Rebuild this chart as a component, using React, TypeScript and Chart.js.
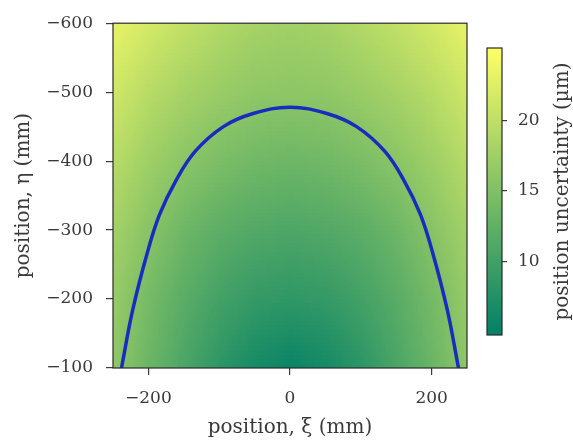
import React, { useEffect, useRef } from 'react';
import { Chart, registerables } from 'chart.js';

Chart.register(...registerables);

// ---- data ----
const X_NODES = [-250, -200, -150, -100, -50, 0, 50, 100, 150, 200, 250];
const Y_NODES = [-600, -500, -400, -300, -200, -100];
// position uncertainty (µm) on the grid, rows follow Y_NODES, columns follow X_NODES
const UNC_ROW_600 = [23.2, 21.6, 20.2, 19.0, 18.0, 17.6, 18.0, 19.0, 20.2, 21.6, 23.2];
const UNC_ROW_500 = [21.2, 19.4, 18.0, 17.0, 16.2, 16.0, 16.2, 17.0, 18.0, 19.4, 21.2];
const UNC_ROW_400 = [19.4, 17.4, 15.8, 14.6, 13.8, 13.4, 13.8, 14.6, 15.8, 17.4, 19.4];
const UNC_ROW_300 = [17.8, 15.6, 13.5, 12.1, 11.3, 10.9, 11.3, 12.1, 13.5, 15.6, 17.8];
const UNC_ROW_200 = [16.8, 14.1, 11.9, 10.1, 8.9, 8.5, 8.9, 10.1, 11.9, 14.1, 16.8];
const UNC_ROW_100 = [16.2, 13.3, 10.7, 8.3, 6.5, 5.5, 6.5, 8.3, 10.7, 13.3, 16.2];
const UNCERTAINTY = [UNC_ROW_600, UNC_ROW_500, UNC_ROW_400, UNC_ROW_300, UNC_ROW_200, UNC_ROW_100];

const CURVE_X = [-238, -222, -201, -184, -162, -134, -94, -52, 0, 52, 94, 134, 162, 184, 201, 222, 238];
const CURVE_Y = [-100, -185, -269, -323, -370, -414, -450, -469, -478, -469, -450, -414, -370, -323, -269, -185, -100];

const X_TICKS = [-200, 0, 200];
const Y_TICKS = [-600, -500, -400, -300, -200, -100];
const CB_TICKS = [10, 15, 20];
const CB_MIN = 4.8;
const CB_MAX = 25.1;

const X_LABEL = 'position, \u03BE (mm)';
const Y_LABEL = 'position, \u03B7 (mm)';
const CB_LABEL = 'position uncertainty (\u00B5m)';

const FAMILY = '"DejaVu Serif", serif';
const TEXT = '#3a3a3a';

function summer(t: number): [number, number, number] {
  const c = Math.max(0, Math.min(1, t));
  return [Math.round(255 * c), Math.round(255 * (0.5 + 0.5 * c)), Math.round(255 * 0.4)];
}
const rgb = (c: [number, number, number]) => `rgb(${c[0]},${c[1]},${c[2]})`;
const fmt = (v: any) => (Number(v) < 0 ? '\u2212' + Math.abs(Number(v)) : String(v));

const heatmapPlugin = {
  id: 'heatmap',
  beforeDatasetsDraw(chart: any) {
    const { ctx, chartArea, scales } = chart;
    const xs = scales.x;
    const ys = scales.y;
    const nx = X_NODES.length;
    const ny = Y_NODES.length;
    const off = document.createElement('canvas');
    off.width = nx;
    off.height = ny;
    const octx = off.getContext('2d')!;
    const img = octx.createImageData(nx, ny);
    for (let j = 0; j < ny; j++) {
      for (let i = 0; i < nx; i++) {
        const c = summer((UNCERTAINTY[j][i] - CB_MIN) / (CB_MAX - CB_MIN));
        const k = (j * nx + i) * 4;
        img.data[k] = c[0];
        img.data[k + 1] = c[1];
        img.data[k + 2] = c[2];
        img.data[k + 3] = 255;
      }
    }
    octx.putImageData(img, 0, 0);
    const cellW = xs.getPixelForValue(X_NODES[1]) - xs.getPixelForValue(X_NODES[0]);
    const cellH = ys.getPixelForValue(Y_NODES[1]) - ys.getPixelForValue(Y_NODES[0]);
    const x0 = xs.getPixelForValue(X_NODES[0]) - cellW / 2;
    const y0 = ys.getPixelForValue(Y_NODES[0]) - cellH / 2;
    ctx.save();
    ctx.beginPath();
    ctx.rect(chartArea.left, chartArea.top, chartArea.right - chartArea.left, chartArea.bottom - chartArea.top);
    ctx.clip();
    ctx.imageSmoothingEnabled = true;
    ctx.imageSmoothingQuality = 'low';
    ctx.drawImage(off, x0, y0, cellW * nx, cellH * ny);
    ctx.restore();
  },
  afterDraw(chart: any) {
    const { ctx, chartArea } = chart;
    ctx.save();
    ctx.strokeStyle = '#2a2a2a';
    ctx.lineWidth = 1.2;
    ctx.strokeRect(chartArea.left, chartArea.top, chartArea.right - chartArea.left, chartArea.bottom - chartArea.top);
    ctx.restore();
  },
};

const colorbarPlugin = {
  id: 'colorbar',
  beforeDatasetsDraw(chart: any) {
    const { ctx, chartArea, scales } = chart;
    const y = scales.y;
    const yb = y.getPixelForValue(CB_MIN);
    const yt = y.getPixelForValue(CB_MAX);
    const grad = ctx.createLinearGradient(0, yb, 0, yt);
    grad.addColorStop(0, rgb(summer(0)));
    grad.addColorStop(1, rgb(summer(1)));
    ctx.save();
    ctx.fillStyle = grad;
    ctx.fillRect(chartArea.left, chartArea.top, chartArea.right - chartArea.left, chartArea.bottom - chartArea.top);
    ctx.strokeStyle = '#2a2a2a';
    ctx.lineWidth = 1.2;
    ctx.strokeRect(chartArea.left, chartArea.top, chartArea.right - chartArea.left, chartArea.bottom - chartArea.top);
    ctx.translate(563, (chartArea.top + chartArea.bottom) / 2);
    ctx.rotate(-Math.PI / 2);
    ctx.font = `20px ${FAMILY}`;
    ctx.fillStyle = TEXT;
    ctx.textAlign = 'center';
    ctx.textBaseline = 'middle';
    ctx.fillText(CB_LABEL, 0, 0);
    ctx.restore();
  },
};

export default function App() {
  const mainRef = useRef<HTMLCanvasElement>(null);
  const cbRef = useRef<HTMLCanvasElement>(null);

  useEffect(() => {
    const main = new Chart(mainRef.current!, {
      type: 'scatter',
      data: {
        datasets: [
          {
            data: CURVE_X.map((x, i) => ({ x, y: CURVE_Y[i] })),
            showLine: true,
            borderColor: '#1a2cc0',
            borderWidth: 3.5,
            pointRadius: 0,
            tension: 0.4,
            fill: false,
          } as any,
        ],
      },
      options: {
        responsive: false,
        animation: false,
        events: [],
        layout: { padding: { left: 0, top: 14, right: 106, bottom: 0 } },
        plugins: { legend: { display: false }, tooltip: { enabled: false } },
        scales: {
          x: {
            type: 'linear',
            min: -250,
            max: 250,
            afterBuildTicks: (s: any) => {
              s.ticks = X_TICKS.map((v) => ({ value: v }));
            },
            afterFit: (s: any) => {
              s.height = 73;
            },
            grid: { drawOnChartArea: false, drawTicks: true, tickLength: 7, color: TEXT, lineWidth: 1.2 },
            border: { display: false },
            ticks: { font: { family: FAMILY, size: 17 }, color: TEXT, padding: 13, callback: fmt, maxRotation: 0, autoSkip: false },
            title: { display: true, text: X_LABEL, font: { family: FAMILY, size: 20 }, color: TEXT, padding: { top: 0, bottom: 1 } },
          },
          y: {
            type: 'linear',
            reverse: true,
            min: -600,
            max: -100,
            afterBuildTicks: (s: any) => {
              s.ticks = Y_TICKS.map((v) => ({ value: v }));
            },
            afterFit: (s: any) => {
              s.width = 113;
            },
            grid: { drawOnChartArea: false, drawTicks: true, tickLength: 7, color: TEXT, lineWidth: 1.2 },
            border: { display: false },
            ticks: { font: { family: FAMILY, size: 17 }, color: TEXT, padding: 13, callback: fmt, autoSkip: false },
            title: { display: true, text: Y_LABEL, font: { family: FAMILY, size: 20 }, color: TEXT, padding: { top: 11.5, bottom: 0 } },
          },
        },
      },
      plugins: [heatmapPlugin],
    });

    const cb = new Chart(cbRef.current!, {
      type: 'scatter',
      data: { datasets: [] },
      options: {
        responsive: false,
        animation: false,
        events: [],
        layout: { padding: { left: 487, top: 48, right: 0, bottom: 106 } },
        plugins: { legend: { display: false }, tooltip: { enabled: false } },
        scales: {
          x: { display: false, min: 0, max: 1 },
          y: {
            position: 'right',
            min: CB_MIN,
            max: CB_MAX,
            afterBuildTicks: (s: any) => {
              s.ticks = CB_TICKS.map((v) => ({ value: v }));
            },
            afterFit: (s: any) => {
              s.width = 71;
            },
            grid: { drawOnChartArea: false, drawTicks: true, tickLength: 5, color: TEXT, lineWidth: 1.2 },
            border: { display: false },
            ticks: { font: { family: FAMILY, size: 17 }, color: TEXT, padding: 11, autoSkip: false },
          },
        },
      },
      plugins: [colorbarPlugin],
    });

    return () => {
      main.destroy();
      cb.destroy();
    };
  }, []);

  return (
    <div style={{ position: 'absolute', left: 0, top: 0, width: 573, height: 441, background: '#ffffff' }}>
      <canvas ref={mainRef} width={573} height={441} style={{ position: 'absolute', left: 0, top: 0 }} />
      <canvas ref={cbRef} width={573} height={441} style={{ position: 'absolute', left: 0, top: 0 }} />
    </div>
  );
}
